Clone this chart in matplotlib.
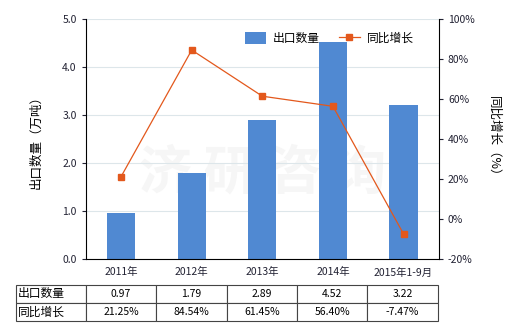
import matplotlib
matplotlib.use("Agg")
import matplotlib.pyplot as plt
import numpy as np

plt.rcParams['font.family'] = ['Noto Sans CJK SC', 'DejaVu Sans']
plt.rcParams['font.size'] = 7.5

years = ["2011年", "2012年", "2013年", "2014年", "2015年1-9月"]
export_qty = [0.97, 1.79, 2.89, 4.52, 3.22]
yoy_growth = [21.25, 84.54, 61.45, 56.40, -7.47]
qty_labels = ["0.97", "1.79", "2.89", "4.52", "3.22"]
growth_labels = ["21.25%", "84.54%", "61.45%", "56.40%", "-7.47%"]

bar_color = "#5089d2"
line_color = "#e3581c"
text_color = "#222233"

fig = plt.figure(figsize=(5.2, 3.3), dpi=100)
ax = fig.add_axes([0.165, 0.215, 0.679, 0.727])
x = np.arange(len(years))

ax.bar(x, export_qty, width=0.4, color=bar_color, label="出口数量", zorder=2)
ax.set_ylim(0, 5)
ax.set_yticks(np.arange(0, 5.01, 1.0))
ax.set_yticklabels([f"{v:.1f}" for v in np.arange(0, 5.01, 1.0)])
ax.set_xlim(-0.5, len(years) - 0.5)
ax.set_xticks(x)
ax.set_xticklabels(years)
ax.grid(axis='y', color="#dde6ea", lw=0.8, zorder=0)
ax.set_ylabel("出口数量（万吨）", fontsize=9, labelpad=14)
for s in ["top", "right"]:
    ax.spines[s].set_visible(False)
ax.tick_params(axis='x', length=0, pad=6, colors=text_color)
ax.tick_params(axis='y', length=3, colors=text_color)

ax2 = ax.twinx()
ax2.plot(x, yoy_growth, color=line_color, lw=0.9, marker='s', markersize=4,
         label="同比增长", zorder=3)
ax2.set_ylim(-20, 100)
ax2.set_yticks(np.arange(-20, 101, 20))
ax2.set_yticklabels([f"{v}%" for v in range(-20, 101, 20)])
ax2.set_ylabel("同比增长（%）", fontsize=9, rotation=-90, labelpad=18)
for s in ["top", "left", "bottom"]:
    ax2.spines[s].set_visible(False)
ax2.tick_params(axis='y', length=3, colors=text_color)

# faint watermark
ax.text(0.5, 0.36, "济 研 咨 询", transform=ax.transAxes, ha='center', va='center',
        fontsize=38, color="#f6f6f6", zorder=1, fontweight='bold')

h1, l1 = ax.get_legend_handles_labels()
h2, l2 = ax2.get_legend_handles_labels()
ax2.legend(h1 + h2, l1 + l2, loc='upper right', bbox_to_anchor=(0.96, 0.99),
           ncol=2, frameon=False, fontsize=8.5, handlelength=1.8, handleheight=1.1,
           columnspacing=1.6, handletextpad=0.6)

cells = [["出口数量"] + qty_labels, ["同比增长"] + growth_labels]
tbl = ax.table(cellText=cells, cellLoc='center',
               colWidths=[70 / 422] + [352 / 5 / 422] * 5,
               bbox=[-0.198, -0.258, 1.195, 0.15])
tbl.auto_set_font_size(False)
tbl.set_fontsize(7.5)
for (r, c), cell in tbl.get_celld().items():
    cell.set_edgecolor("#444444")
    cell.set_linewidth(0.8)
    if c == 0:
        cell.set_text_props(ha='left', fontsize=8.5)
        cell.PAD = 0.03

fig.savefig("out.png", dpi=100)
